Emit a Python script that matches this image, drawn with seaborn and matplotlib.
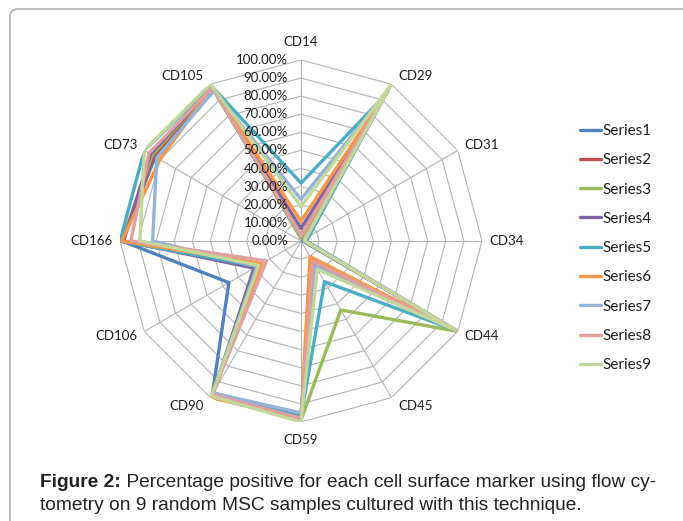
import numpy as np
import matplotlib
matplotlib.use("Agg")
import matplotlib.pyplot as plt
import seaborn as sns
from matplotlib.transforms import offset_copy, IdentityTransform
from matplotlib.patches import FancyBboxPatch

markers = ["CD14", "CD29", "CD31", "CD34", "CD44", "CD45",
           "CD59", "CD90", "CD106", "CD166", "CD73", "CD105"]

series1 = [2, 95, 2, 1, 99, 15, 97, 98, 46, 99, 93, 97]
series2 = [3, 96, 3, 2, 99, 14, 97, 97, 26, 99, 94, 97]
series3 = [2, 97, 3, 2, 100, 44, 99, 99, 28, 99, 95, 98]
series4 = [7, 94, 4, 2, 99, 13, 98, 97, 30, 98, 96, 98]
series5 = [32, 93, 5, 3, 99, 26, 97, 98, 28, 100, 100, 99]
series6 = [11, 94, 3, 2, 100, 10, 98, 100, 25, 99, 90, 98]
series7 = [23, 96, 3, 2, 99, 16, 95, 97, 28, 82, 92, 96]
series8 = [3, 95, 2, 2, 99, 13, 98, 98, 22, 94, 97, 98]
series9 = [19, 100, 3, 2, 99, 18, 100, 99, 27, 89, 100, 100]

all_series = [series1, series2, series3, series4, series5,
              series6, series7, series8, series9]
series_names = ["Series%d" % (i + 1) for i in range(9)]
colors = ["#4F81BD", "#C0504D", "#9BBB59", "#8064A2", "#4BACC6",
          "#F79646", "#95B3D7", "#E0A09F", "#C3D69B"]

ring_values = [0, 10, 20, 30, 40, 50, 60, 70, 80, 90, 100]

sns.set_style("white")
plt.rcParams["font.family"] = ["Lato", "DejaVu Sans"]

fig = plt.figure(figsize=(6.83, 5.21), dpi=100)
ax = fig.add_axes([0.1757, 0.19, 0.53, 0.695], projection="polar")
ax.set_theta_zero_location("N")
ax.set_theta_direction(-1)
ax.set_ylim(0, 100)
ax.grid(False)
ax.set_xticks([])
ax.set_yticks([])
ax.spines["polar"].set_visible(False)

theta = np.linspace(0, 2 * np.pi, len(markers), endpoint=False)
theta_closed = np.append(theta, theta[0])

grid_col = "#b3b3b3"
for v in ring_values[1:]:
    ax.plot(theta_closed, [v] * len(theta_closed), color=grid_col, lw=0.8, zorder=1)
for th in theta:
    ax.plot([th, th], [0, 100], color=grid_col, lw=0.8, zorder=1)

txt_col = "#1e1e1e"

# radial tick labels along CD14 axis
tick_tr = offset_copy(ax.transData, fig=fig, x=-13, y=0, units="dots")
for v in ring_values:
    ax.text(0, v, "%.2f%%" % v, transform=tick_tr, ha="right", va="center",
            fontsize=9.5, color=txt_col, zorder=6)

# category labels
for th, name in zip(theta, markers):
    s, c = np.sin(th), np.cos(th)
    if abs(s) < 0.1:
        dx, dy, ha = 0, 18 * np.sign(c), "center"
    else:
        dx, dy = 7 * np.sign(s), 10 * c
        ha = "left" if s > 0 else "right"
    tr = offset_copy(ax.transData, fig=fig, x=dx, y=dy, units="dots")
    ax.text(th, 100, name, transform=tr, ha=ha, va="center",
            fontsize=9.5, color=txt_col, zorder=6)

handles = []
for vals, name, col in zip(all_series, series_names, colors):
    closed = vals + vals[:1]
    sns.lineplot(x=theta_closed, y=closed, sort=False, estimator=None,
                 color=col, lw=2.4, ax=ax, zorder=3)
    handles.append(ax.get_lines()[-1])
ax.set_xlabel("")
ax.set_ylabel("")

fig.legend(handles, series_names, loc="upper left",
           bbox_to_anchor=(0.849, 0.762), frameon=False, fontsize=11,
           handlelength=1.4, handletextpad=0.1, labelspacing=1.0,
           labelcolor=txt_col, borderaxespad=0, borderpad=0)

# outer frame with rounded top-left corner
frame = FancyBboxPatch((10, -40), 1000, 552,
                       boxstyle="round,pad=0,rounding_size=8",
                       transform=IdentityTransform(), fill=False,
                       edgecolor="#b8b8b8", lw=1.3)
fig.add_artist(frame)

# caption
cap = fig.add_axes([0, 0, 1, 1], facecolor="none")
cap.axis("off")
cap.set_xlim(0, 683)
cap.set_ylim(521, 0)
cfont = ["Liberation Sans", "DejaVu Sans"]
bold = cap.text(40, 487, "Figure 2:", fontsize=13.75, fontweight="bold",
                family=cfont, color="#222222", va="baseline")
cap.annotate(" Percentage positive for each cell surface marker using flow cy-",
             xy=(1, 0), xycoords=bold, va="bottom", ha="left",
             fontsize=13.75, family=cfont, color="#222222")
cap.text(40, 510, "tometry on 9 random MSC samples cultured with this technique.",
         fontsize=13.75, family=cfont, color="#222222", va="baseline")

fig.savefig("out.png", dpi=100)
